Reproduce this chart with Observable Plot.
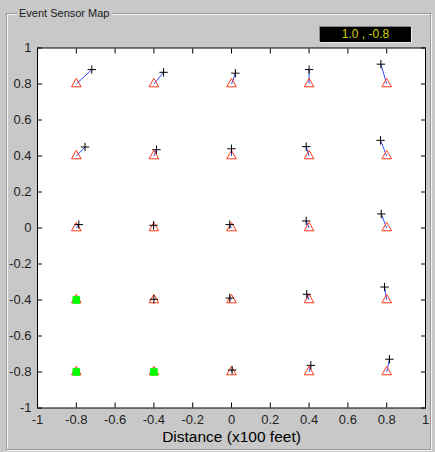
<!DOCTYPE html>
<html>
<head>
<meta charset="utf-8">
<script src="https://cdn.jsdelivr.net/npm/d3@7"></script>
<script src="https://cdn.jsdelivr.net/npm/@observablehq/plot@0.6"></script>
<style>
  html, body { margin: 0; padding: 0; background: #c8c8c8; }
  #wrap { position: relative; width: 435px; height: 452px; overflow: hidden; font-family: "Liberation Sans", Arial, sans-serif; }
  #panel { position: absolute; left: 6px; top: 13px; width: 423px; height: 435px;
           border: 1px solid #9a9a9a; box-shadow: inset 1px 1px 0 #f4f4f4, 1px 1px 0 #f4f4f4; }
  #ptitle { position: absolute; left: 17px; top: 6px; font-size: 11px; line-height: 14px; color: #1a1a1a;
            background: #c8c8c8; padding: 0 2px; }
  #readout { position: absolute; left: 320px; top: 27px; width: 91px; height: 15px; background: #000;
             color: #d2d200; font-size: 12px; line-height: 15px; text-align: center; box-shadow: 1px 1px 0 #eee, -1px -1px 0 #888; }
  #chart { position: absolute; left: 0; top: 0; }
</style>
</head>
<body>
<div id="wrap">
  <div id="panel"></div>
  <div id="ptitle">Event Sensor Map</div>
  <div id="readout">1.0 , -0.8</div>
  <div id="chart"></div>
</div>
<script>
// Sensor grid
const gridX = [-0.8, -0.4, 0, 0.4, 0.8];
const gridY = [0.8, 0.4, 0, -0.4, -0.8];
// Event readings per sensor (rows follow gridY, columns follow gridX); null = dead sensor
const readX = [
  [-0.72, -0.35, 0.02, 0.40, 0.77],
  [-0.755, -0.387, 0.0, 0.385, 0.768],
  [-0.787, -0.402, -0.009, 0.385, 0.772],
  [null, -0.40, -0.009, 0.388, 0.789],
  [null, null, 0.003, 0.409, 0.814]
];
const readY = [
  [0.88, 0.865, 0.86, 0.88, 0.91],
  [0.45, 0.435, 0.44, 0.452, 0.487],
  [0.019, 0.015, 0.019, 0.039, 0.078],
  [null, -0.396, -0.389, -0.368, -0.328],
  [null, null, -0.789, -0.763, -0.729]
];
const xTicks = [-1, -0.8, -0.6, -0.4, -0.2, 0, 0.2, 0.4, 0.6, 0.8, 1];
const yTicks = [-1, -0.8, -0.6, -0.4, -0.2, 0, 0.2, 0.4, 0.6, 0.8, 1];
const xLabel = "Distance (x100 feet)";
const readoutText = "1.0 , -0.8";

const sensors = [];
gridY.forEach((gy, i) => gridX.forEach((gx, j) => {
  sensors.push({x: gx, y: gy, ex: readX[i][j], ey: readY[i][j], dead: readX[i][j] == null});
}));
const live = sensors.filter(d => !d.dead);
const dead = sensors.filter(d => d.dead);

const plusSymbol = {
  draw(ctx, size) {
    const r = Math.sqrt(size / Math.PI);
    ctx.moveTo(-r, 0); ctx.lineTo(r, 0);
    ctx.moveTo(0, -r); ctx.lineTo(0, r);
  }
};
const fmt = d => String(d);

const chart = Plot.plot({
  width: 435,
  height: 452,
  marginLeft: 37,
  marginRight: 10,
  marginTop: 47.5,
  marginBottom: 44.5,
  x: {domain: [-1, 1]},
  y: {domain: [-1, 1]},
  style: {background: "transparent", fontFamily: "'Liberation Sans', Arial, sans-serif", fontSize: "13px", color: "#1e1e1e", overflow: "visible"},
  marks: [
    Plot.frame({fill: "white"}),
    Plot.link(live, {x1: "x", y1: "y", x2: "ex", y2: "ey", stroke: "#2f4cff", strokeWidth: 1}),
    Plot.dot(sensors, {x: "x", y: "y", symbol: "triangle", r: 3.6, stroke: "#ff3a1a", fill: "none", strokeWidth: 1}),
    Plot.dot(dead, {x: "x", y: "y", symbol: "square", r: 4.3, fill: "#00ff00", stroke: "none"}),
    Plot.dot(live, {x: "ex", y: "ey", symbol: plusSymbol, r: 4.2, stroke: "black", strokeWidth: 1}),
    Plot.axisX(xTicks, {anchor: "bottom", tickSize: -5, tickPadding: 12, tickFormat: fmt, label: null, stroke: "black"}),
    Plot.axisX(xTicks, {anchor: "top", tickSize: -5, tickFormat: () => "", label: null, stroke: "black"}),
    Plot.axisY(yTicks, {anchor: "left", tickSize: -5, tickPadding: 11, tickFormat: fmt, label: null, stroke: "black"}),
    Plot.axisY(yTicks, {anchor: "right", tickSize: -5, tickFormat: () => "", label: null, stroke: "black"}),
    Plot.frame({stroke: "black", strokeWidth: 1}),
    Plot.text([xLabel], {text: d => d, frameAnchor: "bottom", dy: 34, fontSize: 15.5, fill: "black"})
  ]
});
document.getElementById("chart").appendChild(chart);
document.getElementById("readout").textContent = readoutText;
</script>
</body>
</html>
